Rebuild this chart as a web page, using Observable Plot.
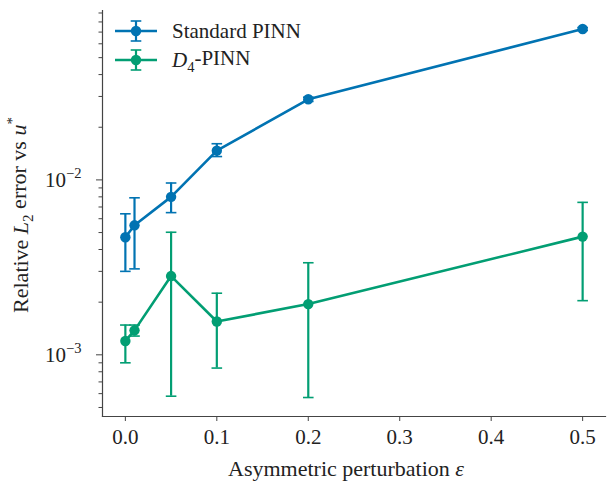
<!DOCTYPE html>
<html><head><meta charset="utf-8">
<script src="https://cdn.jsdelivr.net/npm/d3@7"></script>
<script src="https://cdn.jsdelivr.net/npm/@observablehq/plot@0.6"></script>
<style>body{margin:0;background:#fff} svg text{font-family:"Liberation Serif",serif !important;}</style>
</head><body><div id="chart"></div>
<script>
const eps = [0, 0.01, 0.05, 0.1, 0.2, 0.5];
const seriesNames = ["Standard PINN", "D4-PINN"];
const seriesColors = ["#0173b2", "#029e73"];
const stdMean = [0.0047, 0.0055, 0.0080, 0.0147, 0.0289, 0.0729];
const stdLo   = [0.0030, 0.0031, 0.0065, 0.0136, 0.0281, 0.0715];
const stdHi   = [0.0064, 0.0079, 0.0096, 0.0161, 0.0297, 0.0743];
const d4Mean  = [0.00120, 0.00138, 0.00282, 0.00155, 0.00195, 0.00474];
const d4Lo    = [0.00090, 0.00128, 0.00058, 0.00084, 0.00057, 0.00204];
const d4Hi    = [0.00148, 0.00148, 0.00502, 0.00225, 0.00336, 0.00744];
const xTicks = [0, 0.1, 0.2, 0.3, 0.4, 0.5];
const yMajor = [1e-3, 1e-2];
const yMinor = [5e-4, 6e-4, 7e-4, 8e-4, 9e-4, 2e-3, 3e-3, 4e-3, 5e-3, 6e-3, 7e-3, 8e-3, 9e-3, 2e-2, 3e-2, 4e-2, 5e-2, 6e-2, 7e-2, 8e-2, 9e-2];

const rows = [];
eps.forEach((x, i) => rows.push({series: seriesNames[0], x, y: stdMean[i], lo: stdLo[i], hi: stdHi[i]}));
eps.forEach((x, i) => rows.push({series: seriesNames[1], x, y: d4Mean[i], lo: d4Lo[i], hi: d4Hi[i]}));

const capSymbol = {draw(ctx) { ctx.moveTo(-5.3, 0); ctx.lineTo(5.3, 0); }};
const spine = "#444";
const font = "Liberation Serif";

const plot = Plot.plot({
  width: 607, height: 484,
  marginLeft: 102, marginRight: 2, marginTop: 10, marginBottom: 68,
  style: {fontFamily: font, fontSize: "21px", background: "white", color: "#222"},
  x: {domain: [-0.025, 0.525], label: null},
  y: {type: "log", domain: [4.44e-4, 0.093], label: null},
  color: {domain: seriesNames, range: seriesColors},
  marks: [
    Plot.axisX({ticks: xTicks, tickFormat: d => d.toFixed(1), tickSize: 5, tickPadding: 8, stroke: spine, fontSize: 21, fill: "#222", label: null}),
    Plot.axisY({ticks: yMajor, tickFormat: d => "10^" + Math.round(Math.log10(d)), tickSize: 6, tickPadding: 15, stroke: spine, fontSize: 21, fill: "#222", label: null}),
    Plot.axisY({ticks: yMinor, tickFormat: () => "", tickSize: 3.5, stroke: spine, label: null}),
    Plot.frame({anchor: "left", stroke: spine, strokeWidth: 1.2}),
    Plot.frame({anchor: "bottom", stroke: spine, strokeWidth: 1.2}),
    Plot.ruleX(rows, {x: "x", y1: "lo", y2: "hi", stroke: "series", strokeWidth: 2.2}),
    Plot.dot(rows, {x: "x", y: "lo", symbol: capSymbol, fill: "none", stroke: "series", strokeWidth: 1.6, r: 5}),
    Plot.dot(rows, {x: "x", y: "hi", symbol: capSymbol, fill: "none", stroke: "series", strokeWidth: 1.6, r: 5}),
    Plot.line(rows, {x: "x", y: "y", z: "series", stroke: "series", strokeWidth: 2.6}),
    Plot.dot(rows, {x: "x", y: "y", fill: "series", r: 5.2})
  ]
});
document.getElementById("chart").appendChild(plot);

const svg = d3.select(plot);
// all Plot-generated texts are tick labels
svg.selectAll("text").each(function() {
  this.style.setProperty("font-size", "21px", "important");
  const t = this.textContent;
  if (t.startsWith("10^")) {
    const exp = t.slice(3).replace("-", "\u2212");
    const el = d3.select(this);
    el.text("");
    el.append("tspan").text("10");
    el.append("tspan").attr("dy", "-0.6em").node().style.setProperty("font-size", "14.5px", "important");
    el.select("tspan:last-child").text(exp);
  }
});

// axis labels
svg.append("text").attr("x", 346).attr("y", 476).attr("text-anchor", "middle")
  .style("font-size", "22px").attr("fill", "#222")
  .call(t => { t.append("tspan").text("Asymmetric perturbation "); t.append("tspan").attr("font-style", "italic").text("\u03b5"); });

svg.append("text").attr("transform", "translate(28,215) rotate(-90)").attr("text-anchor", "middle")
  .style("font-size", "22px").attr("fill", "#222")
  .call(t => {
    t.append("tspan").text("Relative ");
    t.append("tspan").attr("font-style", "italic").text("L");
    t.append("tspan").style("font-size", "15px").attr("dy", "0.3em").text("2");
    t.append("tspan").attr("dy", "-0.3em").text(" error vs ");
    t.append("tspan").attr("font-style", "italic").text("u");
    t.append("tspan").style("font-size", "15px").attr("dy", "-0.6em").text("*");
  });

// legend
const leg = svg.append("g");
[0, 1].forEach(i => {
  const cy = 31 + i * 29, c = seriesColors[i];
  const g = leg.append("g");
  g.append("line").attr("x1", 115).attr("x2", 157).attr("y1", cy).attr("y2", cy).attr("stroke", c).attr("stroke-width", 2.6);
  g.append("line").attr("x1", 136).attr("x2", 136).attr("y1", cy - 10).attr("y2", cy + 10).attr("stroke", c).attr("stroke-width", 2.2);
  g.append("line").attr("x1", 130.7).attr("x2", 141.3).attr("y1", cy - 10).attr("y2", cy - 10).attr("stroke", c).attr("stroke-width", 1.6);
  g.append("line").attr("x1", 130.7).attr("x2", 141.3).attr("y1", cy + 10).attr("y2", cy + 10).attr("stroke", c).attr("stroke-width", 1.6);
  g.append("circle").attr("cx", 136).attr("cy", cy).attr("r", 5.2).attr("fill", c);
  const tx = g.append("text").attr("x", 172).attr("y", cy).attr("dy", "0.35em").attr("text-anchor", "start")
    .style("font-size", "21px").attr("fill", "#222");
  if (i === 0) tx.text("Standard PINN");
  else {
    tx.append("tspan").attr("font-style", "italic").text("D");
    tx.append("tspan").style("font-size", "14.5px").attr("dy", "0.3em").text("4");
    tx.append("tspan").attr("dy", "-0.3em").text("-PINN");
  }
});
</script>
</body></html>
